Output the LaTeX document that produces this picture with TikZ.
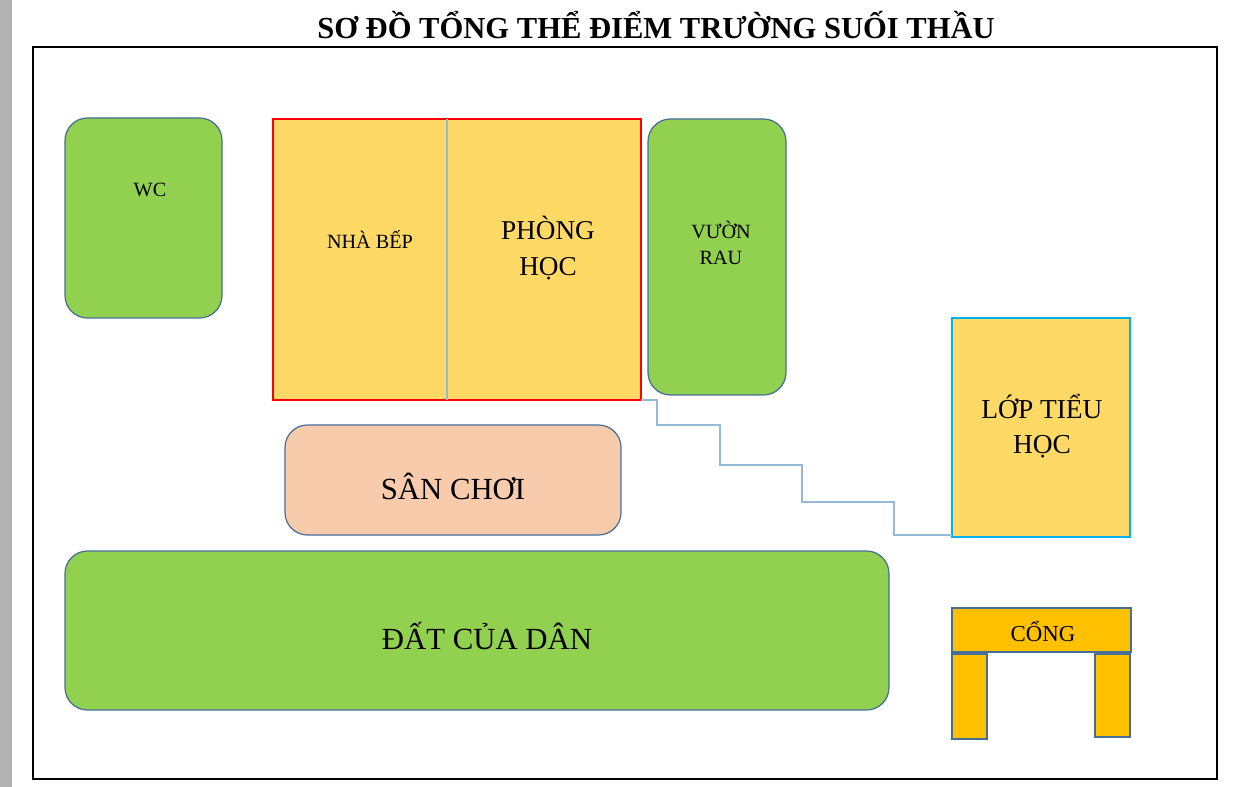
\documentclass[tikz,border=0pt]{standalone}
\usepackage{fontspec}
\setmainfont{Liberation Serif}
\definecolor{grass}{RGB}{146,208,80}
\definecolor{sand}{RGB}{255,217,102}
\definecolor{peach}{RGB}{248,203,173}
\definecolor{gold}{RGB}{255,192,0}
\definecolor{edge}{RGB}{70,110,150}
\definecolor{path}{RGB}{150,185,215}
\definecolor{sky}{RGB}{0,176,240}
\begin{document}
\begin{tikzpicture}[x=0.02cm,y=-0.02cm,
  lot/.style={draw=edge,line width=0.7pt,fill=grass,rounded corners=0.45cm},
  room/.style={line width=0.7pt,fill=sand}]
\useasboundingbox (0,0) rectangle (1242,787);
\fill[gray!60] (0,0) rectangle (12,787);
\draw[black,line width=0.8pt] (33,47) rectangle (1217,779);

\node[font=\bfseries\fontsize{17.4}{20}\selectfont] (title) at (656,25) {SƠ ĐỒ TỔNG THỂ ĐIỂM TRƯỜNG SUỐI THẦU};

\draw[lot] (65,118) rectangle (222,318);
\node[font=\fontsize{11.5}{14}\selectfont] (wc) at (150,190) {WC};

\draw[room,draw=red] (273,119) rectangle (641,400);
\draw[path,line width=0.7pt] (447,119) -- (447,400);
\node[font=\fontsize{11.5}{14}\selectfont] (bep) at (370,240) {NHÀ BẾP};
\node[font=\fontsize{15.5}{20}\selectfont,align=center] (hoc) at (548,248) {PHÒNG\\HỌC};
\coordinate (hocend) at (641,400);

\draw[lot] (648,119) rectangle (786,395);
\node[font=\fontsize{11.5}{14.8}\selectfont,align=center] (rau) at (721,243) {VƯỜN\\RAU};

\draw[room,draw=sky] (952,318) rectangle (1130,537);
\node[font=\fontsize{15.6}{19.5}\selectfont,align=center] (tieuhoc) at (1042,426) {LỚP TIỂU\\HỌC};
\coordinate (tieuend) at (952,535);

\draw[lot,fill=peach] (285,425) rectangle (621,535);
\node[font=\fontsize{17.5}{20}\selectfont] (san) at (453,486) {SÂN CHƠI};

\draw[lot] (65,551) rectangle (889,710);
\node[font=\fontsize{17.5}{20}\selectfont] (dat) at (487,636) {ĐẤT CỦA DÂN};

\draw[edge,line width=0.7pt,fill=gold] (952,608) rectangle (1131,652);
\draw[edge,line width=0.7pt,fill=gold] (952,654) rectangle (987,739);
\draw[edge,line width=0.7pt,fill=gold] (1095,654) rectangle (1130,737);
\node[font=\fontsize{13}{16}\selectfont] (cong) at (1043,631) {CỔNG};

% loi di
\draw[path,line width=0.8pt] (hocend) -- (657,400) -- (657,425) -- (720,425) -- (720,465)
  -- (802,465) -- (802,502) -- (894,502) -- (894,535) -- (tieuend);
\end{tikzpicture}
\end{document}
